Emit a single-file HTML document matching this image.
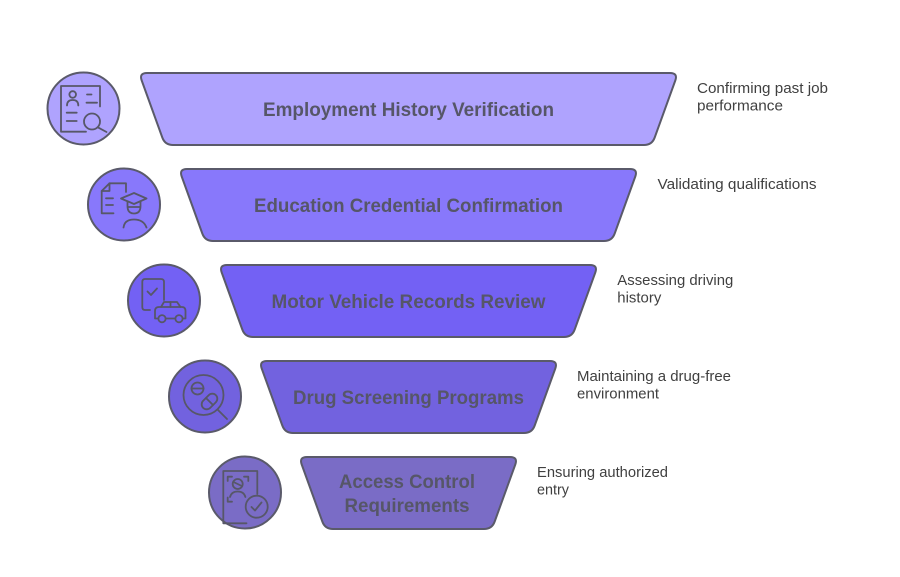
<!DOCTYPE html>
<html>
<head>
<meta charset="utf-8">
<style>
  html, body { margin: 0; padding: 0; background: #ffffff; }
  body { width: 900px; height: 577px; overflow: hidden; }
  svg { display: block; }
  .lbl { font-family: "Liberation Sans", Arial, sans-serif; font-weight: bold; font-size: 19px; fill: #565668; text-anchor: middle; }
  .desc { font-family: "Liberation Sans", Arial, sans-serif; font-size: 14.8px; fill: #404040; }
  .shape { stroke: #5a5a6a; stroke-width: 2; }
  .ic { fill: none; stroke: #575768; stroke-width: 1.8; stroke-linecap: round; stroke-linejoin: round; }
</style>
</head>
<body>
<svg width="900" height="577" viewBox="0 0 900 577" xmlns="http://www.w3.org/2000/svg">
  <!-- Trapezoids -->
  <path class="shape" fill="#afa3fe" d="M147,73 L670,73 Q678,73 675.3,80.5 L654.7,137.5 Q652,145 644,145 L173,145 Q165,145 162.3,137.5 L141.7,80.5 Q139,73 147,73 Z"/>
  <path class="shape" fill="#8878fb" d="M187,169 L630,169 Q638,169 635.3,176.5 L614.7,233.5 Q612,241 604,241 L213,241 Q205,241 202.3,233.5 L181.7,176.5 Q179,169 187,169 Z"/>
  <path class="shape" fill="#7361f4" d="M227,265 L590,265 Q598,265 595.3,272.5 L574.7,329.5 Q572,337 564,337 L253,337 Q245,337 242.3,329.5 L221.7,272.5 Q219,265 227,265 Z"/>
  <path class="shape" fill="#7262df" d="M267,361 L550,361 Q558,361 555.3,368.5 L534.7,425.5 Q532,433 524,433 L293,433 Q285,433 282.3,425.5 L261.7,368.5 Q259,361 267,361 Z"/>
  <path class="shape" fill="#7a6cc6" d="M307,457 L510,457 Q518,457 515.3,464.5 L494.7,521.5 Q492,529 484,529 L333,529 Q325,529 322.3,521.5 L301.7,464.5 Q299,457 307,457 Z"/>

  <!-- Labels -->
  <text class="lbl" x="408.5" y="116" textLength="291" lengthAdjust="spacingAndGlyphs">Employment History Verification</text>
  <text class="lbl" x="408.5" y="212" textLength="309" lengthAdjust="spacingAndGlyphs">Education Credential Confirmation</text>
  <text class="lbl" x="408.5" y="308" textLength="274" lengthAdjust="spacingAndGlyphs">Motor Vehicle Records Review</text>
  <text class="lbl" x="408.5" y="404" textLength="231" lengthAdjust="spacingAndGlyphs">Drug Screening Programs</text>
  <text class="lbl" x="407" y="488" textLength="136" lengthAdjust="spacingAndGlyphs">Access Control</text>
  <text class="lbl" x="407" y="512" textLength="125" lengthAdjust="spacingAndGlyphs">Requirements</text>

  <!-- Descriptions -->
  <text class="desc" x="697" y="93" textLength="131" lengthAdjust="spacingAndGlyphs">Confirming past job</text>
  <text class="desc" x="697" y="110.5" textLength="86" lengthAdjust="spacingAndGlyphs">performance</text>
  <text class="desc" x="657.5" y="189" textLength="159" lengthAdjust="spacingAndGlyphs">Validating qualifications</text>
  <text class="desc" x="617.3" y="285" textLength="116" lengthAdjust="spacingAndGlyphs">Assessing driving</text>
  <text class="desc" x="617.3" y="302.5" textLength="44" lengthAdjust="spacingAndGlyphs">history</text>
  <text class="desc" x="577" y="381" textLength="154" lengthAdjust="spacingAndGlyphs">Maintaining a drug-free</text>
  <text class="desc" x="577" y="398.5" textLength="82" lengthAdjust="spacingAndGlyphs">environment</text>
  <text class="desc" x="537" y="477" textLength="131" lengthAdjust="spacingAndGlyphs">Ensuring authorized</text>
  <text class="desc" x="537" y="494.5" textLength="32" lengthAdjust="spacingAndGlyphs">entry</text>

  <!-- Circles -->
  <circle class="shape" cx="83.5" cy="108.5" r="36" fill="#afa3fe"/>
  <circle class="shape" cx="124" cy="204.5" r="36" fill="#8878fb"/>
  <circle class="shape" cx="164" cy="300.5" r="36" fill="#7361f4"/>
  <circle class="shape" cx="205" cy="396.5" r="36" fill="#7262df"/>
  <circle class="shape" cx="245" cy="492.5" r="36" fill="#7a6cc6"/>

  <!-- Icon 1: resume with magnifier -->
  <g class="ic">
    <path d="M86,131.7 L61,131.7 L61,86 L100,86 L100,106.5"/>
    <circle cx="72.7" cy="94.5" r="3.3"/>
    <path d="M67,105.5 Q67,100 72.7,100 Q78.3,100 78.3,105.5"/>
    <line x1="87" y1="94.5" x2="91.5" y2="94.5"/>
    <line x1="86.5" y1="102.7" x2="97" y2="102.7"/>
    <line x1="66.7" y1="112.7" x2="76.7" y2="112.7"/>
    <line x1="66.7" y1="121" x2="76.7" y2="121"/>
    <circle cx="92" cy="121.5" r="8"/>
    <line x1="97.8" y1="127.3" x2="106.5" y2="132"/>
  </g>

  <!-- Icon 2: document with graduate -->
  <g class="ic">
    <path d="M113.5,213.3 L101.7,213.3 L101.7,191 L109.5,183.3 L126,183.3 L126,192"/>
    <path d="M101.7,191 L109.5,191 L109.5,183.3"/>
    <line x1="106" y1="198.3" x2="113" y2="198.3"/>
    <line x1="106" y1="205" x2="113" y2="205"/>
    <path d="M121,198.5 L134,193 L146.5,198.5 L134,204 Z"/>
    <path d="M127.5,201.5 L127.5,206 Q127.5,213.5 134,213.5 Q140.5,213.5 140.5,206 L140.5,201.5"/>
    <line x1="128" y1="207" x2="140" y2="207"/>
    <path d="M123.5,227.5 Q124.5,219.5 134,219.5 Q143.5,219.5 146.5,227.5"/>
  </g>

  <!-- Icon 3: phone + car -->
  <g class="ic">
    <path d="M150,310 L145,310 Q142.3,310 142.3,307 L142.3,282 Q142.3,279 145,279 L161,279 Q164,279 164,282 L164,300"/>
    <path d="M147.5,291.5 L151,295 L157,288.5"/>
    <path d="M161,307 L164,302 L177,302 L180.5,307"/>
    <line x1="170.5" y1="302" x2="170.5" y2="307"/>
    <path d="M157.5,318.5 L155,318.5 L155,311 Q155,307 159,307 L182,307 Q185.5,307 185.5,311 L185.5,318.5 L183,318.5"/>
    <line x1="166" y1="318.5" x2="175" y2="318.5"/>
    <circle cx="162" cy="318.7" r="3.6"/>
    <circle cx="179" cy="318.7" r="3.6"/>
  </g>

  <!-- Icon 4: pills under magnifier -->
  <g class="ic">
    <circle cx="203.5" cy="395" r="20"/>
    <line x1="217.5" y1="409.5" x2="227" y2="419"/>
    <circle cx="197.5" cy="388.5" r="6"/>
    <line x1="191.5" y1="388.5" x2="203.5" y2="388.5"/>
    <g transform="rotate(-45 209.5 401.5)">
      <rect x="200.5" y="396.5" width="18" height="10" rx="5"/>
      <line x1="209.5" y1="396.5" x2="209.5" y2="406.5"/>
    </g>
  </g>

  <!-- Icon 5: face scan document with check -->
  <g class="ic">
    <path d="M246.5,523.3 L223.3,523.3 L223.3,471 L257.3,471 L257.3,494"/>
    <path d="M227.7,481 L227.7,476.7 L232,476.7"/>
    <path d="M244,476.7 L248.3,476.7 L248.3,481"/>
    <path d="M227.7,497.5 L227.7,501.7 L232,501.7"/>
    <circle cx="237.7" cy="484" r="5"/>
    <line x1="233.5" y1="482" x2="241.8" y2="486"/>
    <path d="M230,497 Q231.5,491.5 237.7,491.5 Q243.9,491.5 245.4,497"/>
    <circle cx="256.7" cy="506.7" r="11"/>
    <path d="M251.5,507 L255,510.5 L261.5,502.5"/>
  </g>
</svg>
</body>
</html>
